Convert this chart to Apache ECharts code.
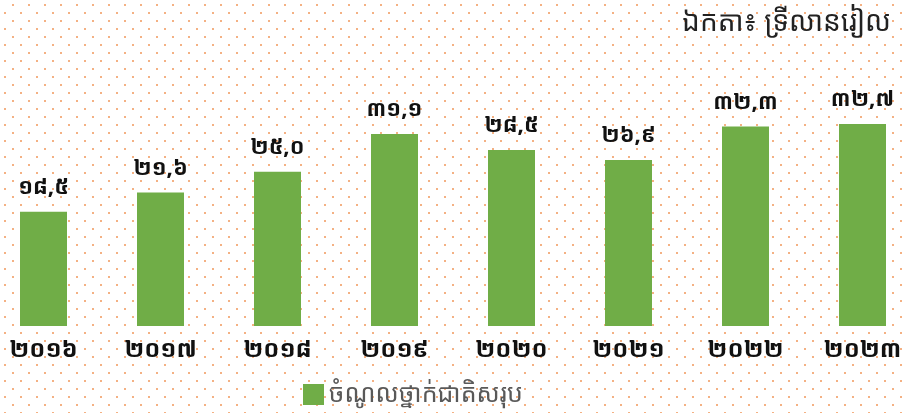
<!DOCTYPE html>
<html>
<head>
<meta charset="utf-8">
<script src="https://cdn.jsdelivr.net/npm/echarts@6/dist/echarts.min.js"></script>
<style>
  html, body { margin: 0; padding: 0; background: #fff; }
  #chart-container { width: 902px; height: 413px; }
</style>
</head>
<body>
<div id="chart-container"></div>
<script>
var dom = document.getElementById('chart-container');
var myChart = echarts.init(dom, null, { renderer: 'canvas' });

// data
const years = ['២០១៦', '២០១៧', '២០១៨', '២០១៩', '២០២០', '២០២១', '២០២២', '២០២៣'];
const values = [18.5, 21.6, 25.0, 31.1, 28.5, 26.9, 32.3, 32.7];
const seriesName = 'ចំណូលថ្នាក់ជាតិសរុប';
const unitText = 'ឯកតា៖ ទ្រីលានរៀល';

const KHMER_DIGITS = ['០', '១', '២', '៣', '៤', '៥', '៦', '៧', '៨', '៩'];
function toKhmer(v) {
  return v.toFixed(1).replace('.', ',').replace(/[0-9]/g, d => KHMER_DIGITS[+d]);
}

const FONT = "'Noto Sans Khmer', 'Khmer OS', 'DejaVu Sans', sans-serif";

// dotted background pattern
const tile = document.createElement('canvas');
tile.width = 16;
tile.height = 16;
const ctx = tile.getContext('2d');
ctx.fillStyle = '#fff';
ctx.fillRect(0, 0, 16, 16);
ctx.fillStyle = '#f4b183';
ctx.fillRect(12, 4, 2, 2);
ctx.fillRect(4, 12, 2, 2);

var option = {
  backgroundColor: { image: tile, repeat: 'repeat' },
  title: {
    text: unitText,
    right: 6,
    top: 4,
    textStyle: { fontFamily: FONT, fontSize: 28, fontWeight: 'normal', color: '#222' }
  },
  legend: {
    bottom: 1,
    left: 298,
    itemWidth: 21,
    itemHeight: 21,
    itemGap: 10,
    icon: 'rect',
    textStyle: { fontFamily: FONT, fontSize: 25, color: '#595959' },
    data: [seriesName]
  },
  grid: { left: -15, width: 936, top: 79, bottom: 87, outerBoundsMode: 'none', containLabel: false },
  xAxis: {
    type: 'category',
    data: years,
    axisLine: { show: false },
    axisTick: { show: false },
    axisLabel: { fontFamily: FONT, fontSize: 24, fontWeight: 'bold', color: '#111', margin: 12 }
  },
  yAxis: {
    type: 'value',
    min: 0,
    max: 40,
    show: false,
    splitLine: { show: false }
  },
  series: [{
    name: seriesName,
    type: 'bar',
    data: values,
    barWidth: 47,
    itemStyle: { color: '#70ad47' },
    label: {
      show: true,
      position: 'top',
      distance: 13,
      fontFamily: FONT,
      fontSize: 22,
      fontWeight: 'bold',
      color: '#111',
      formatter: p => toKhmer(p.value)
    }
  }]
};

myChart.setOption(option);
window.addEventListener('resize', myChart.resize);
</script>
</body>
</html>
